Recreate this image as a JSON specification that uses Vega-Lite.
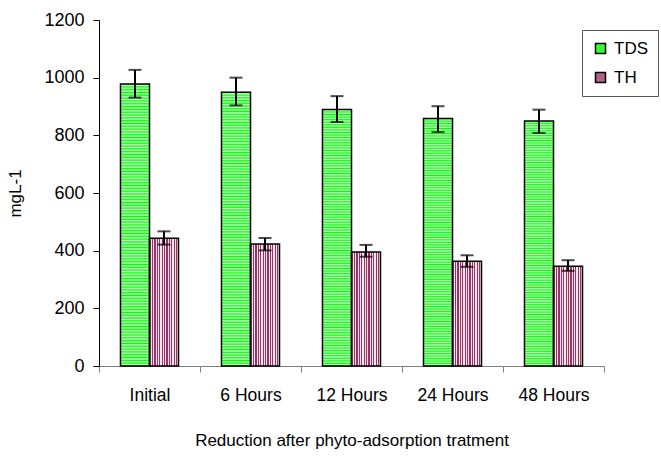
{
  "$schema": "https://vega.github.io/schema/vega-lite/v6.json",
  "width": 505,
  "height": 346,
  "autosize": {"type": "none"},
  "padding": {"left": 99, "top": 20, "right": 57, "bottom": 91},
  "background": "white",
  "config": {
    "view": {"stroke": null},
    "font": "Liberation Sans"
  },
  "data": {
    "values": [
      {"cat": "Initial", "series": "TDS", "value": 978, "lo": 931, "hi": 1027},
      {"cat": "Initial", "series": "TH", "value": 443, "lo": 421, "hi": 467},
      {"cat": "6 Hours", "series": "TDS", "value": 949, "lo": 904, "hi": 1000},
      {"cat": "6 Hours", "series": "TH", "value": 423, "lo": 401, "hi": 444},
      {"cat": "12  Hours", "series": "TDS", "value": 890, "lo": 846, "hi": 936},
      {"cat": "12  Hours", "series": "TH", "value": 395, "lo": 379, "hi": 420},
      {"cat": "24  Hours", "series": "TDS", "value": 858, "lo": 811, "hi": 901},
      {"cat": "24  Hours", "series": "TH", "value": 363, "lo": 344, "hi": 384},
      {"cat": "48  Hours", "series": "TDS", "value": 850, "lo": 808, "hi": 889},
      {"cat": "48  Hours", "series": "TH", "value": 346, "lo": 330, "hi": 367}
    ]
  },
  "encoding": {
    "x": {
      "field": "cat", "type": "nominal", "sort": null,
      "scale": {"paddingInner": 0, "paddingOuter": 0},
      "axis": {
        "title": "Reduction after phyto-adsorption tratment",
        "labelAngle": 0, "labelFontSize": 17.5, "labelColor": "black",
        "titleFontSize": 17, "titleFontWeight": "normal", "titleColor": "black",
        "tickBand": "extent", "tickSize": 6, "tickColor": "#808080",
        "domainColor": "#808080", "labelPadding": 14, "titlePadding": 29
      }
    },
    "xOffset": {"field": "series", "type": "nominal", "scale": {"domain": ["TDS", "TH"], "paddingInner": 0, "paddingOuter": 0.741}}
  },
  "layer": [
    {
      "transform": [{"filter": "datum.series === 'TDS'"}],
      "mark": {
        "type": "bar", "stroke": "black", "strokeWidth": 1.5,
        "fill": {"gradient": "linear", "x1": 0, "y1": 0, "x2": 0, "y2": 1, "stops": [
          {"offset":0,"color":"#00ff00"},{"offset":0.005,"color":"#d4ffd4"},{"offset":0.01,"color":"#00ff00"},{"offset":0.015,"color":"#d4ffd4"},{"offset":0.02,"color":"#00ff00"},{"offset":0.025,"color":"#d4ffd4"},{"offset":0.03,"color":"#00ff00"},{"offset":0.035,"color":"#d4ffd4"},{"offset":0.04,"color":"#00ff00"},{"offset":0.045,"color":"#d4ffd4"},
          {"offset":0.05,"color":"#00ff00"},{"offset":0.055,"color":"#d4ffd4"},{"offset":0.06,"color":"#00ff00"},{"offset":0.065,"color":"#d4ffd4"},{"offset":0.07,"color":"#00ff00"},{"offset":0.075,"color":"#d4ffd4"},{"offset":0.08,"color":"#00ff00"},{"offset":0.085,"color":"#d4ffd4"},{"offset":0.09,"color":"#00ff00"},{"offset":0.095,"color":"#d4ffd4"},
          {"offset":0.1,"color":"#00ff00"},{"offset":0.105,"color":"#d4ffd4"},{"offset":0.11,"color":"#00ff00"},{"offset":0.115,"color":"#d4ffd4"},{"offset":0.12,"color":"#00ff00"},{"offset":0.125,"color":"#d4ffd4"},{"offset":0.13,"color":"#00ff00"},{"offset":0.135,"color":"#d4ffd4"},{"offset":0.14,"color":"#00ff00"},{"offset":0.145,"color":"#d4ffd4"},
          {"offset":0.15,"color":"#00ff00"},{"offset":0.155,"color":"#d4ffd4"},{"offset":0.16,"color":"#00ff00"},{"offset":0.165,"color":"#d4ffd4"},{"offset":0.17,"color":"#00ff00"},{"offset":0.175,"color":"#d4ffd4"},{"offset":0.18,"color":"#00ff00"},{"offset":0.185,"color":"#d4ffd4"},{"offset":0.19,"color":"#00ff00"},{"offset":0.195,"color":"#d4ffd4"},
          {"offset":0.2,"color":"#00ff00"},{"offset":0.205,"color":"#d4ffd4"},{"offset":0.21,"color":"#00ff00"},{"offset":0.215,"color":"#d4ffd4"},{"offset":0.22,"color":"#00ff00"},{"offset":0.225,"color":"#d4ffd4"},{"offset":0.23,"color":"#00ff00"},{"offset":0.235,"color":"#d4ffd4"},{"offset":0.24,"color":"#00ff00"},{"offset":0.245,"color":"#d4ffd4"},
          {"offset":0.25,"color":"#00ff00"},{"offset":0.255,"color":"#d4ffd4"},{"offset":0.26,"color":"#00ff00"},{"offset":0.265,"color":"#d4ffd4"},{"offset":0.27,"color":"#00ff00"},{"offset":0.275,"color":"#d4ffd4"},{"offset":0.28,"color":"#00ff00"},{"offset":0.285,"color":"#d4ffd4"},{"offset":0.29,"color":"#00ff00"},{"offset":0.295,"color":"#d4ffd4"},
          {"offset":0.3,"color":"#00ff00"},{"offset":0.305,"color":"#d4ffd4"},{"offset":0.31,"color":"#00ff00"},{"offset":0.315,"color":"#d4ffd4"},{"offset":0.32,"color":"#00ff00"},{"offset":0.325,"color":"#d4ffd4"},{"offset":0.33,"color":"#00ff00"},{"offset":0.335,"color":"#d4ffd4"},{"offset":0.34,"color":"#00ff00"},{"offset":0.345,"color":"#d4ffd4"},
          {"offset":0.35,"color":"#00ff00"},{"offset":0.355,"color":"#d4ffd4"},{"offset":0.36,"color":"#00ff00"},{"offset":0.365,"color":"#d4ffd4"},{"offset":0.37,"color":"#00ff00"},{"offset":0.375,"color":"#d4ffd4"},{"offset":0.38,"color":"#00ff00"},{"offset":0.385,"color":"#d4ffd4"},{"offset":0.39,"color":"#00ff00"},{"offset":0.395,"color":"#d4ffd4"},
          {"offset":0.4,"color":"#00ff00"},{"offset":0.405,"color":"#d4ffd4"},{"offset":0.41,"color":"#00ff00"},{"offset":0.415,"color":"#d4ffd4"},{"offset":0.42,"color":"#00ff00"},{"offset":0.425,"color":"#d4ffd4"},{"offset":0.43,"color":"#00ff00"},{"offset":0.435,"color":"#d4ffd4"},{"offset":0.44,"color":"#00ff00"},{"offset":0.445,"color":"#d4ffd4"},
          {"offset":0.45,"color":"#00ff00"},{"offset":0.455,"color":"#d4ffd4"},{"offset":0.46,"color":"#00ff00"},{"offset":0.465,"color":"#d4ffd4"},{"offset":0.47,"color":"#00ff00"},{"offset":0.475,"color":"#d4ffd4"},{"offset":0.48,"color":"#00ff00"},{"offset":0.485,"color":"#d4ffd4"},{"offset":0.49,"color":"#00ff00"},{"offset":0.495,"color":"#d4ffd4"},
          {"offset":0.5,"color":"#00ff00"},{"offset":0.505,"color":"#d4ffd4"},{"offset":0.51,"color":"#00ff00"},{"offset":0.515,"color":"#d4ffd4"},{"offset":0.52,"color":"#00ff00"},{"offset":0.525,"color":"#d4ffd4"},{"offset":0.53,"color":"#00ff00"},{"offset":0.535,"color":"#d4ffd4"},{"offset":0.54,"color":"#00ff00"},{"offset":0.545,"color":"#d4ffd4"},
          {"offset":0.55,"color":"#00ff00"},{"offset":0.555,"color":"#d4ffd4"},{"offset":0.56,"color":"#00ff00"},{"offset":0.565,"color":"#d4ffd4"},{"offset":0.57,"color":"#00ff00"},{"offset":0.575,"color":"#d4ffd4"},{"offset":0.58,"color":"#00ff00"},{"offset":0.585,"color":"#d4ffd4"},{"offset":0.59,"color":"#00ff00"},{"offset":0.595,"color":"#d4ffd4"},
          {"offset":0.6,"color":"#00ff00"},{"offset":0.605,"color":"#d4ffd4"},{"offset":0.61,"color":"#00ff00"},{"offset":0.615,"color":"#d4ffd4"},{"offset":0.62,"color":"#00ff00"},{"offset":0.625,"color":"#d4ffd4"},{"offset":0.63,"color":"#00ff00"},{"offset":0.635,"color":"#d4ffd4"},{"offset":0.64,"color":"#00ff00"},{"offset":0.645,"color":"#d4ffd4"},
          {"offset":0.65,"color":"#00ff00"},{"offset":0.655,"color":"#d4ffd4"},{"offset":0.66,"color":"#00ff00"},{"offset":0.665,"color":"#d4ffd4"},{"offset":0.67,"color":"#00ff00"},{"offset":0.675,"color":"#d4ffd4"},{"offset":0.68,"color":"#00ff00"},{"offset":0.685,"color":"#d4ffd4"},{"offset":0.69,"color":"#00ff00"},{"offset":0.695,"color":"#d4ffd4"},
          {"offset":0.7,"color":"#00ff00"},{"offset":0.705,"color":"#d4ffd4"},{"offset":0.71,"color":"#00ff00"},{"offset":0.715,"color":"#d4ffd4"},{"offset":0.72,"color":"#00ff00"},{"offset":0.725,"color":"#d4ffd4"},{"offset":0.73,"color":"#00ff00"},{"offset":0.735,"color":"#d4ffd4"},{"offset":0.74,"color":"#00ff00"},{"offset":0.745,"color":"#d4ffd4"},
          {"offset":0.75,"color":"#00ff00"},{"offset":0.755,"color":"#d4ffd4"},{"offset":0.76,"color":"#00ff00"},{"offset":0.765,"color":"#d4ffd4"},{"offset":0.77,"color":"#00ff00"},{"offset":0.775,"color":"#d4ffd4"},{"offset":0.78,"color":"#00ff00"},{"offset":0.785,"color":"#d4ffd4"},{"offset":0.79,"color":"#00ff00"},{"offset":0.795,"color":"#d4ffd4"},
          {"offset":0.8,"color":"#00ff00"},{"offset":0.805,"color":"#d4ffd4"},{"offset":0.81,"color":"#00ff00"},{"offset":0.815,"color":"#d4ffd4"},{"offset":0.82,"color":"#00ff00"},{"offset":0.825,"color":"#d4ffd4"},{"offset":0.83,"color":"#00ff00"},{"offset":0.835,"color":"#d4ffd4"},{"offset":0.84,"color":"#00ff00"},{"offset":0.845,"color":"#d4ffd4"},
          {"offset":0.85,"color":"#00ff00"},{"offset":0.855,"color":"#d4ffd4"},{"offset":0.86,"color":"#00ff00"},{"offset":0.865,"color":"#d4ffd4"},{"offset":0.87,"color":"#00ff00"},{"offset":0.875,"color":"#d4ffd4"},{"offset":0.88,"color":"#00ff00"},{"offset":0.885,"color":"#d4ffd4"},{"offset":0.89,"color":"#00ff00"},{"offset":0.895,"color":"#d4ffd4"},
          {"offset":0.9,"color":"#00ff00"},{"offset":0.905,"color":"#d4ffd4"},{"offset":0.91,"color":"#00ff00"},{"offset":0.915,"color":"#d4ffd4"},{"offset":0.92,"color":"#00ff00"},{"offset":0.925,"color":"#d4ffd4"},{"offset":0.93,"color":"#00ff00"},{"offset":0.935,"color":"#d4ffd4"},{"offset":0.94,"color":"#00ff00"},{"offset":0.945,"color":"#d4ffd4"},
          {"offset":0.95,"color":"#00ff00"},{"offset":0.955,"color":"#d4ffd4"},{"offset":0.96,"color":"#00ff00"},{"offset":0.965,"color":"#d4ffd4"},{"offset":0.97,"color":"#00ff00"},{"offset":0.975,"color":"#d4ffd4"},{"offset":0.98,"color":"#00ff00"},{"offset":0.985,"color":"#d4ffd4"},{"offset":0.99,"color":"#00ff00"},{"offset":0.995,"color":"#d4ffd4"},
          {"offset":1,"color":"#00ff00"}
        ]}
      },
      "encoding": {
        "y": {
          "field": "value", "type": "quantitative",
          "scale": {"domain": [0, 1200], "nice": false},
          "axis": {
            "title": "mgL-1", "values": [0, 200, 400, 600, 800, 1000, 1200], "format": "d",
            "grid": false, "labelFontSize": 18, "labelColor": "black",
            "titleFontSize": 17, "titleFontWeight": "normal", "titleColor": "black",
            "tickSize": 6, "tickColor": "black", "domainColor": "black",
            "labelPadding": 9, "titlePadding": 19
          }
        }
      }
    },
    {
      "transform": [{"filter": "datum.series === 'TH'"}],
      "mark": {
        "type": "bar", "stroke": "black", "strokeWidth": 1.5,
        "fill": {"gradient": "linear", "x1": 0, "y1": 0, "x2": 1, "y2": 0, "stops": [
          {"offset":0,"color":"#993366"},{"offset":0.0417,"color":"#993366"},{"offset":0.0417,"color":"#f4e4ec"},{"offset":0.0833,"color":"#f4e4ec"},
          {"offset":0.0833,"color":"#993366"},{"offset":0.125,"color":"#993366"},{"offset":0.125,"color":"#f4e4ec"},{"offset":0.1667,"color":"#f4e4ec"},
          {"offset":0.1667,"color":"#993366"},{"offset":0.2083,"color":"#993366"},{"offset":0.2083,"color":"#f4e4ec"},{"offset":0.25,"color":"#f4e4ec"},
          {"offset":0.25,"color":"#993366"},{"offset":0.2917,"color":"#993366"},{"offset":0.2917,"color":"#f4e4ec"},{"offset":0.3333,"color":"#f4e4ec"},
          {"offset":0.3333,"color":"#993366"},{"offset":0.375,"color":"#993366"},{"offset":0.375,"color":"#f4e4ec"},{"offset":0.4167,"color":"#f4e4ec"},
          {"offset":0.4167,"color":"#993366"},{"offset":0.4583,"color":"#993366"},{"offset":0.4583,"color":"#f4e4ec"},{"offset":0.5,"color":"#f4e4ec"},
          {"offset":0.5,"color":"#993366"},{"offset":0.5417,"color":"#993366"},{"offset":0.5417,"color":"#f4e4ec"},{"offset":0.5833,"color":"#f4e4ec"},
          {"offset":0.5833,"color":"#993366"},{"offset":0.625,"color":"#993366"},{"offset":0.625,"color":"#f4e4ec"},{"offset":0.6667,"color":"#f4e4ec"},
          {"offset":0.6667,"color":"#993366"},{"offset":0.7083,"color":"#993366"},{"offset":0.7083,"color":"#f4e4ec"},{"offset":0.75,"color":"#f4e4ec"},
          {"offset":0.75,"color":"#993366"},{"offset":0.7917,"color":"#993366"},{"offset":0.7917,"color":"#f4e4ec"},{"offset":0.8333,"color":"#f4e4ec"},
          {"offset":0.8333,"color":"#993366"},{"offset":0.875,"color":"#993366"},{"offset":0.875,"color":"#f4e4ec"},{"offset":0.9167,"color":"#f4e4ec"},
          {"offset":0.9167,"color":"#993366"},{"offset":0.9583,"color":"#993366"},{"offset":0.9583,"color":"#f4e4ec"},{"offset":1,"color":"#f4e4ec"}
        ]}
      },
      "encoding": {
        "y": {"field": "value", "type": "quantitative"}
      }
    },
    {
      "mark": {"type": "rule", "color": "black", "strokeWidth": 2},
      "encoding": {
        "y": {"field": "lo", "type": "quantitative"},
        "y2": {"field": "hi"}
      }
    },
    {
      "mark": {"type": "tick", "color": "black", "size": 13, "thickness": 2},
      "encoding": {
        "y": {"field": "lo", "type": "quantitative"}
      }
    },
    {
      "mark": {"type": "tick", "color": "black", "size": 13, "thickness": 2},
      "encoding": {
        "y": {"field": "hi", "type": "quantitative"}
      }
    },
    {
      "mark": {"type": "point", "filled": true, "opacity": 0},
      "encoding": {
        "y": {"field": "value", "type": "quantitative"},
        "color": {
          "field": "series", "type": "nominal",
          "scale": {"domain": ["TDS", "TH"], "range": ["#33ff33", "#b0608a"]},
          "legend": {
            "title": null, "orient": "none", "legendX": 483, "legendY": 10,
            "symbolType": "square", "symbolSize": 100, "symbolOpacity": 1,
            "symbolStrokeColor": "black", "symbolStrokeWidth": 1.5,
            "labelFontSize": 17, "labelColor": "black", "labelOffset": 5,
            "rowPadding": 11, "padding": 10, "strokeColor": "#555",
            "fillColor": "white"
          }
        }
      }
    }
  ]
}
